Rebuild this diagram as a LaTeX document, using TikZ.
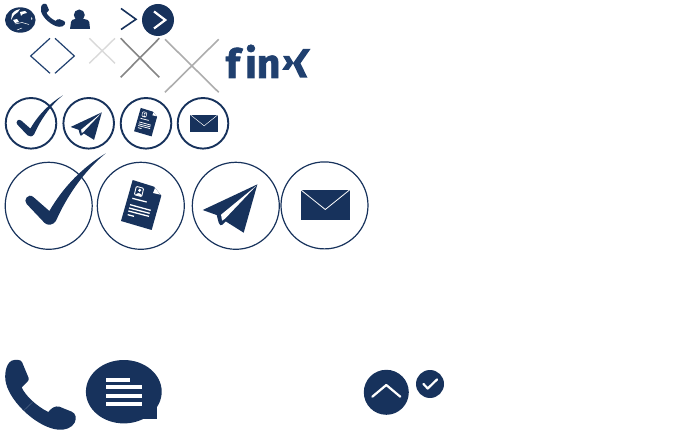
\documentclass[tikz,border=0pt]{standalone}
\usepackage{fontspec}
\setmainfont{Fira Sans}
\newfontfamily\logofont[BoldFeatures={FakeBold=1.6}]{Fira Sans}
\definecolor{navy}{HTML}{17325C}
\definecolor{logoblue}{HTML}{20406F}
\tikzset{
  x=1pt,y=-1pt,
  ring/.style={draw=navy,fill=none},
  thinring/.style={ring,line width=1.2pt},
  thickring/.style={ring,line width=1.9pt},
  whitestroke/.style={draw=white,line width=2.2pt,line cap=round,line join=round},
  rule/.style={draw=white,line cap=butt},
  crossline/.style={line width=#1,line cap=butt},
  social/.style={inner sep=0pt,text=logoblue},
}
\newcommand{\iconcheck}[3]{%
  \begin{scope}[shift={(#1,#2)},scale=#3/3,shift={(-146,-167)}]
    \fill[navy] (317,10) .. controls (250,65) and (200,140) .. (168,212)
      .. controls (160,226) and (142,228) .. (133,218) -- (80,162)
      .. controls (68,150) and (85,128) .. (100,141) -- (148,183)
      .. controls (190,110) and (250,50) .. (317,10) -- cycle;
  \end{scope}}
\newcommand{\icondoc}[3]{%
  \begin{scope}[shift={(#1,#2)},scale=#3/3,shift={(-423,-168)}]
    \fill[navy] (398,90) -- (462,110) -- (484,137) -- (455,240) -- (363,213) -- cycle;
    \fill[white] (465,114) -- (481,134) -- (459,129) -- cycle;
    \draw[white,line width=#3*0.9pt,rounded corners=1pt] (409,109) -- (431,115) -- (425,140) -- (403,134) -- cycle;
    \fill[white] (419,121) circle (5);
    \fill[white] (407,135) .. controls (410,126) and (425,128) .. (426,139) -- cycle;
    \foreach \a/\b/\c/\d in {397/145/440/156,390/164/452/181,387/174/449/190,385/183/447/199,383/194/402/199}
      \draw[rule,line width=#3*1.3pt] (\a,\b) -- (\c,\d);
  \end{scope}}
\newcommand{\iconplane}[3]{%
  \begin{scope}[shift={(#1,#2)},scale=#3/3,shift={(-152,-167)}]
    \fill[navy] (217,103) -- (53,180) -- (95,195) -- (101,218)
      .. controls (103,226) and (108,228) .. (112,224) -- (122,214) -- (176,248) -- cycle;
    \fill[white] (214,107) -- (108,194) -- (111,212) -- (120,206) -- cycle;
  \end{scope}}
\newcommand{\iconenvelope}[3]{%
  \begin{scope}[shift={(#1,#2)},scale=#3]
    \fill[navy] (-24,-15.5) rectangle (24.5,14.5);
    \draw[white,line width=#3*0.8pt] (-24,-15.5) -- (0.3,4) -- (24.5,-15.5);
  \end{scope}}
\newcommand{\iconphone}[4]{%
  \begin{scope}[shift={(#1,#2)},xscale=#3/3,yscale=#4/3]
    \fill[navy] (35,32) .. controls (45,28) and (62,28) .. (66,36) -- (86,84)
      .. controls (88,92) and (80,98) .. (65,112)
      .. controls (75,135) and (108,168) .. (145,186)
      .. controls (152,176) and (165,166) .. (178,170) -- (215,185)
      .. controls (228,190) and (230,205) .. (224,218)
      .. controls (215,234) and (195,241) .. (175,239)
      .. controls (115,234) and (33,160) .. (18,100)
      .. controls (12,75) and (17,42) .. (35,32) -- cycle;
    \draw[navy!75!white,line width=#3*0.5pt] (72,181) -- (97,157);
  \end{scope}}
\begin{document}
\begin{tikzpicture}
\useasboundingbox (0,0) rectangle (693,435);

% top row
\fill[navy] (20.3,20) ellipse [x radius=15.3,y radius=12.7];
\fill[white] (12,14) .. controls (14,11) and (17,9.5) .. (20,9) -- (18,12) -- (14,15) -- (11,20) -- cycle;
\fill[white] (20,12) -- (25,11) -- (27,13) -- (23,14) -- (21,16) -- cycle;
\fill[white] (13,20) -- (17,19) -- (19,22) -- (15,23) -- cycle;
\draw[white,line width=.5pt] (15,24) -- (22,22.5) -- (29,24.5);
\draw[white,line width=.5pt] (17,30) -- (22,28);
\fill[white] (31,17) -- (32.5,19) -- (31.5,20) -- cycle;
\iconphone{39}{0.5}{0.345}{0.33}
\fill[navy] (79.3,15) circle (5.5);
\fill[navy] (70,29) -- (71,22) .. controls (71,20) and (73,19.5) .. (75,19) -- (84,19)
  .. controls (87,19.5) and (89,20) .. (89.3,22) -- (90,29) -- cycle;
\draw[navy,line width=1.6pt] (121,8.5) -- (136,19.3) -- (121,29.5);
\fill[navy] (158,20) circle (16);
\draw[draw=white,line width=2.2pt] (154,11.5) -- (165.3,20) -- (154,28.5);

% outlined shapes
\draw[logoblue,line width=1.2pt] (50,38.3) -- (30.7,56) -- (50,73.3);
\draw[logoblue,line width=1.2pt] (55,38.3) -- (74.3,56) -- (55,73.3);
\draw[crossline=1.4pt,color=black!15] (89.3,38.3) -- (115,63.3) (115,38.3) -- (89.3,63.3);
\draw[crossline=1.6pt,color=black!48] (120.7,38.3) -- (159.3,77.3) (159.3,38.3) -- (120.7,77.3);
\draw[crossline=1.6pt,color=black!32] (165,39.3) -- (218.7,92.3) (218.7,39.3) -- (165,92.3);

% social
\node[social,anchor=base west,font=\logofont\bfseries\fontsize{40}{40}\selectfont] (fblogo) at (225.5,78) {f};
\node[social,anchor=base west,font=\logofont\bfseries\fontsize{41}{41}\selectfont] (inlogo) at (245,78) {in};
\fill[logoblue] (283,56) -- (289.3,56) -- (293.5,62.8) -- (288.5,70) -- (282,70) -- (287,62.8) -- cycle;
\fill[logoblue] (303,49) -- (310.5,49) -- (300.5,63.3) -- (307.5,77.7) -- (300,77.7) -- (293,63.3) -- cycle;

% small row
\draw[thickring] (31,123.3) circle (25.3);
\draw[thickring] (88.7,123.3) circle (25.3);
\draw[thickring] (146,123.3) circle (25.3);
\draw[thickring] (203,123.3) circle (25.3);
\iconcheck{30}{125.5}{0.575}
\iconplane{89.5}{124.5}{0.57}
\icondoc{145.5}{122.7}{0.57}
\iconenvelope{204}{123.5}{0.58}

% large row
\draw[thinring] (48.7,205.8) circle (43.5);
\draw[thinring] (140.8,205.8) circle (43.5);
\draw[thinring] (235.8,205.8) circle (43.5);
\draw[thinring] (324.5,205.4) circle (43.5);
\iconcheck{48.7}{205.7}{1}
\icondoc{141}{206}{1}
\iconplane{235.7}{205.7}{1}
\iconenvelope{325}{205.5}{1}

% bottom row
\iconphone{0}{350}{1}{1}
\fill[navy] (123.8,391.7) ellipse [x radius=37.9,y radius=31.7];
\fill[navy] (140,405) rectangle (157.3,419.3);
\fill[white] (105.7,378) rectangle (130,381.7);
\fill[white] (105.7,385.3) rectangle (142.3,389.3);
\fill[white] (105.7,394) rectangle (142.3,398);
\fill[white] (105.7,402) rectangle (142.3,406);

\fill[navy] (386.3,392.3) circle (22.5);
\draw[whitestroke] (372.3,396.7) -- (386.3,385) -- (400.3,396.7);
\fill[navy] (430,384) circle (14);
\draw[whitestroke] (423.5,384) -- (427.7,388.5) -- (437,379.5);
\end{tikzpicture}
\end{document}
